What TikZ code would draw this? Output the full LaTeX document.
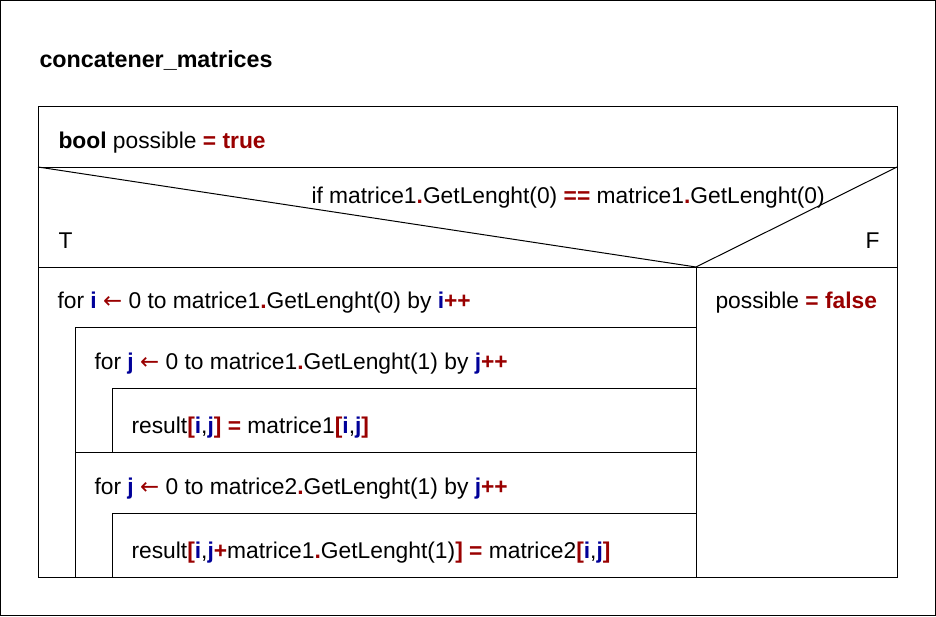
\documentclass[tikz,border=0pt]{standalone}
\usepackage{fontspec}
\setmainfont{Liberation Sans}
\newfontfamily\arrowfont{DejaVu Sans}
\definecolor{opred}{HTML}{990000}
\definecolor{varblue}{HTML}{000099}
\newcommand{\nsop}[1]{\textcolor{opred}{\textbf{#1}}}
\newcommand{\nsvar}[1]{\textcolor{varblue}{\textbf{#1}}}
\newcommand{\nsgets}{\textcolor{opred}{\arrowfont ←}}
\begin{document}
\begin{tikzpicture}[x=1pt, y=-1pt, line width=1pt, line join=miter,
  lbl/.style={anchor=base west, inner sep=0pt, font=\fontsize{22.8}{27}\selectfont}]
		\def\xl{38}\def\xr{897}\def\xs{696}\def\yt{106}\def\yb{577}
		\useasboundingbox (0,0) rectangle (936,616);
		\draw (0.5,0.5) rectangle (935.5,615.5);
		\node[lbl, font=\fontsize{23.3}{27}\selectfont\bfseries] (title) at (39,67) {concatener\_matrices};
		\draw (\xl,\yt) rectangle (\xr,\yb);
		\draw (\xl,167)--(\xr,167);
		\node[lbl] (init) at (58,148) {\textbf{bool} possible \nsop{= true}};
		% if block
		\draw (\xl,167)--(\xs,267)--(\xr,167);
		\draw (\xl,267)--(\xr,267);
		\draw (\xs,267)--(\xs,\yb);
		\node[lbl] (cond) at (311,203) {if matrice1\nsop{.}GetLenght(0) \nsop{==} matrice1\nsop{.}GetLenght(0)};
		\node[lbl] (true) at (58,248) {T};
		\node[lbl] (false) at (865,248) {F};
		\node[lbl] (setfalse) at (715,308) {possible \nsop{= false}};
		% outer loop
		\node[lbl] (fori) at (57,308) {for \nsvar{i} \nsgets{} 0 to matrice1\nsop{.}GetLenght(0) by \nsvar{i}\nsop{++}};
		\draw (75,327)--(\xs,327);
		\draw (75,327)--(75,\yb);
		\draw (75,452)--(\xs,452);
		% inner loops
		\foreach \y in {388,513}\draw (112,\y+64)--(112,\y)--(\xs,\y);
		\node[lbl] (forja) at (94,369) {for \nsvar{j} \nsgets{} 0 to matrice1\nsop{.}GetLenght(1) by \nsvar{j}\nsop{++}};
		\node[lbl] (copya) at (131,433) {result\nsop{[}\nsvar{i},\nsvar{j}\nsop{]} \nsop{=} matrice1\nsop{[}\nsvar{i},\nsvar{j}\nsop{]}};
		\node[lbl] (forjb) at (94,494) {for \nsvar{j} \nsgets{} 0 to matrice2\nsop{.}GetLenght(1) by \nsvar{j}\nsop{++}};
		\node[lbl] (copyb) at (131,558) {result\nsop{[}\nsvar{i},\nsvar{j}\nsop{+}matrice1\nsop{.}GetLenght(1)\nsop{]} \nsop{=} matrice2\nsop{[}\nsvar{i},\nsvar{j}\nsop{]}};
\end{tikzpicture}
\end{document}
